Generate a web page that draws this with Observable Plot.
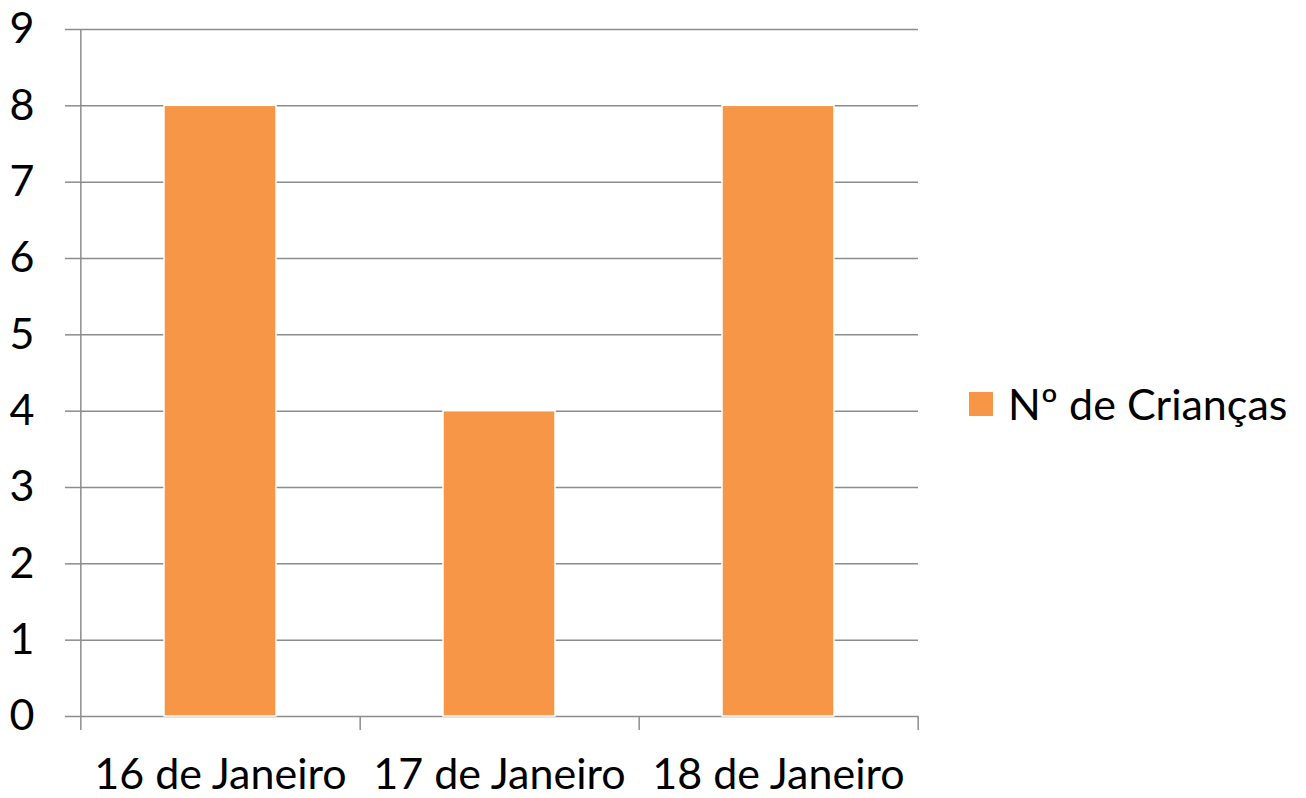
<!DOCTYPE html>
<html>
<head>
<meta charset="utf-8">
<script src="https://cdn.jsdelivr.net/npm/d3@7"></script>
<script src="https://cdn.jsdelivr.net/npm/@observablehq/plot@0.6"></script>
<style>
  html, body { margin: 0; padding: 0; background: #fff; }
  #wrap { position: relative; width: 1306px; height: 798px; font-family: Lato, "Noto Sans", sans-serif; }
  #legend { position: absolute; left: 969px; top: 378px; display: flex; align-items: center; gap: 15px;
            font-size: 43px; color: #000; white-space: nowrap; }
  #legend .sw { width: 24px; height: 24px; background: #F79646; }
</style>
</head>
<body>
<div id="wrap">
  <div id="chart"></div>
  <div id="legend"><span class="sw"></span><span id="legend-label"></span></div>
</div>
<script>
// Children counted per day
const days = ["16 de Janeiro", "17 de Janeiro", "18 de Janeiro"];
const counts = [8, 4, 8];
const seriesName = "Nº de Crianças";
const yTicks = [0, 1, 2, 3, 4, 5, 6, 7, 8, 9];

const data = days.map((d, i) => ({day: d, value: counts[i]}));

const W = 940, H = 798;
const mL = 80, mR = 22, mT = 29, mB = 82;
const padInner = 0.6, padOuter = 0.3;
// band step, used to put category boundary ticks between bars
const step = (W - mL - mR) / (days.length - padInner + 2 * padOuter);

const gridColor = "#8c8c8c";

const chart = Plot.plot({
  width: W,
  height: H,
  marginLeft: mL,
  marginRight: mR,
  marginTop: mT,
  marginBottom: mB,
  style: {fontFamily: "Lato, 'Noto Sans', sans-serif", fontSize: "43px", color: "#000", background: "#fff"},
  x: {domain: days, paddingInner: padInner, paddingOuter: padOuter, align: 0.5},
  y: {domain: [0, 9]},
  marks: [
    // horizontal gridlines
    Plot.ruleY(yTicks, {stroke: gridColor, strokeWidth: 1.5}),
    // y axis with outward ticks
    Plot.axisY(yTicks, {tickSize: 15, tickPadding: 31, stroke: gridColor, strokeWidth: 1.5,
                        fill: "#000", label: null, tickFormat: d => String(d)}),
    // vertical axis line, extended below zero
    Plot.ruleX([days[0]], {x: d => d, dx: -step / 2, y1: 9, y2: 0, insetBottom: -14,
                           stroke: gridColor, strokeWidth: 1.5}),
    // category boundary ticks below the baseline
    Plot.ruleX(days, {x: d => d, dx: step / 2, y1: 0, y2: 0, insetBottom: -14,
                      stroke: gridColor, strokeWidth: 1.5}),
    // bars
    Plot.barY(data, {x: "day", y: "value", fill: "#F79646", stroke: "#fff", strokeWidth: 1.5,
                     style: "filter: drop-shadow(2px 2px 2px rgba(0,0,0,0.3))"}),
    // category labels
    Plot.axisX({tickSize: 0, tickPadding: 42, fill: "#000", label: null}),
  ]
});

document.getElementById("chart").appendChild(chart);
document.getElementById("legend-label").textContent = seriesName;
</script>
</body>
</html>
